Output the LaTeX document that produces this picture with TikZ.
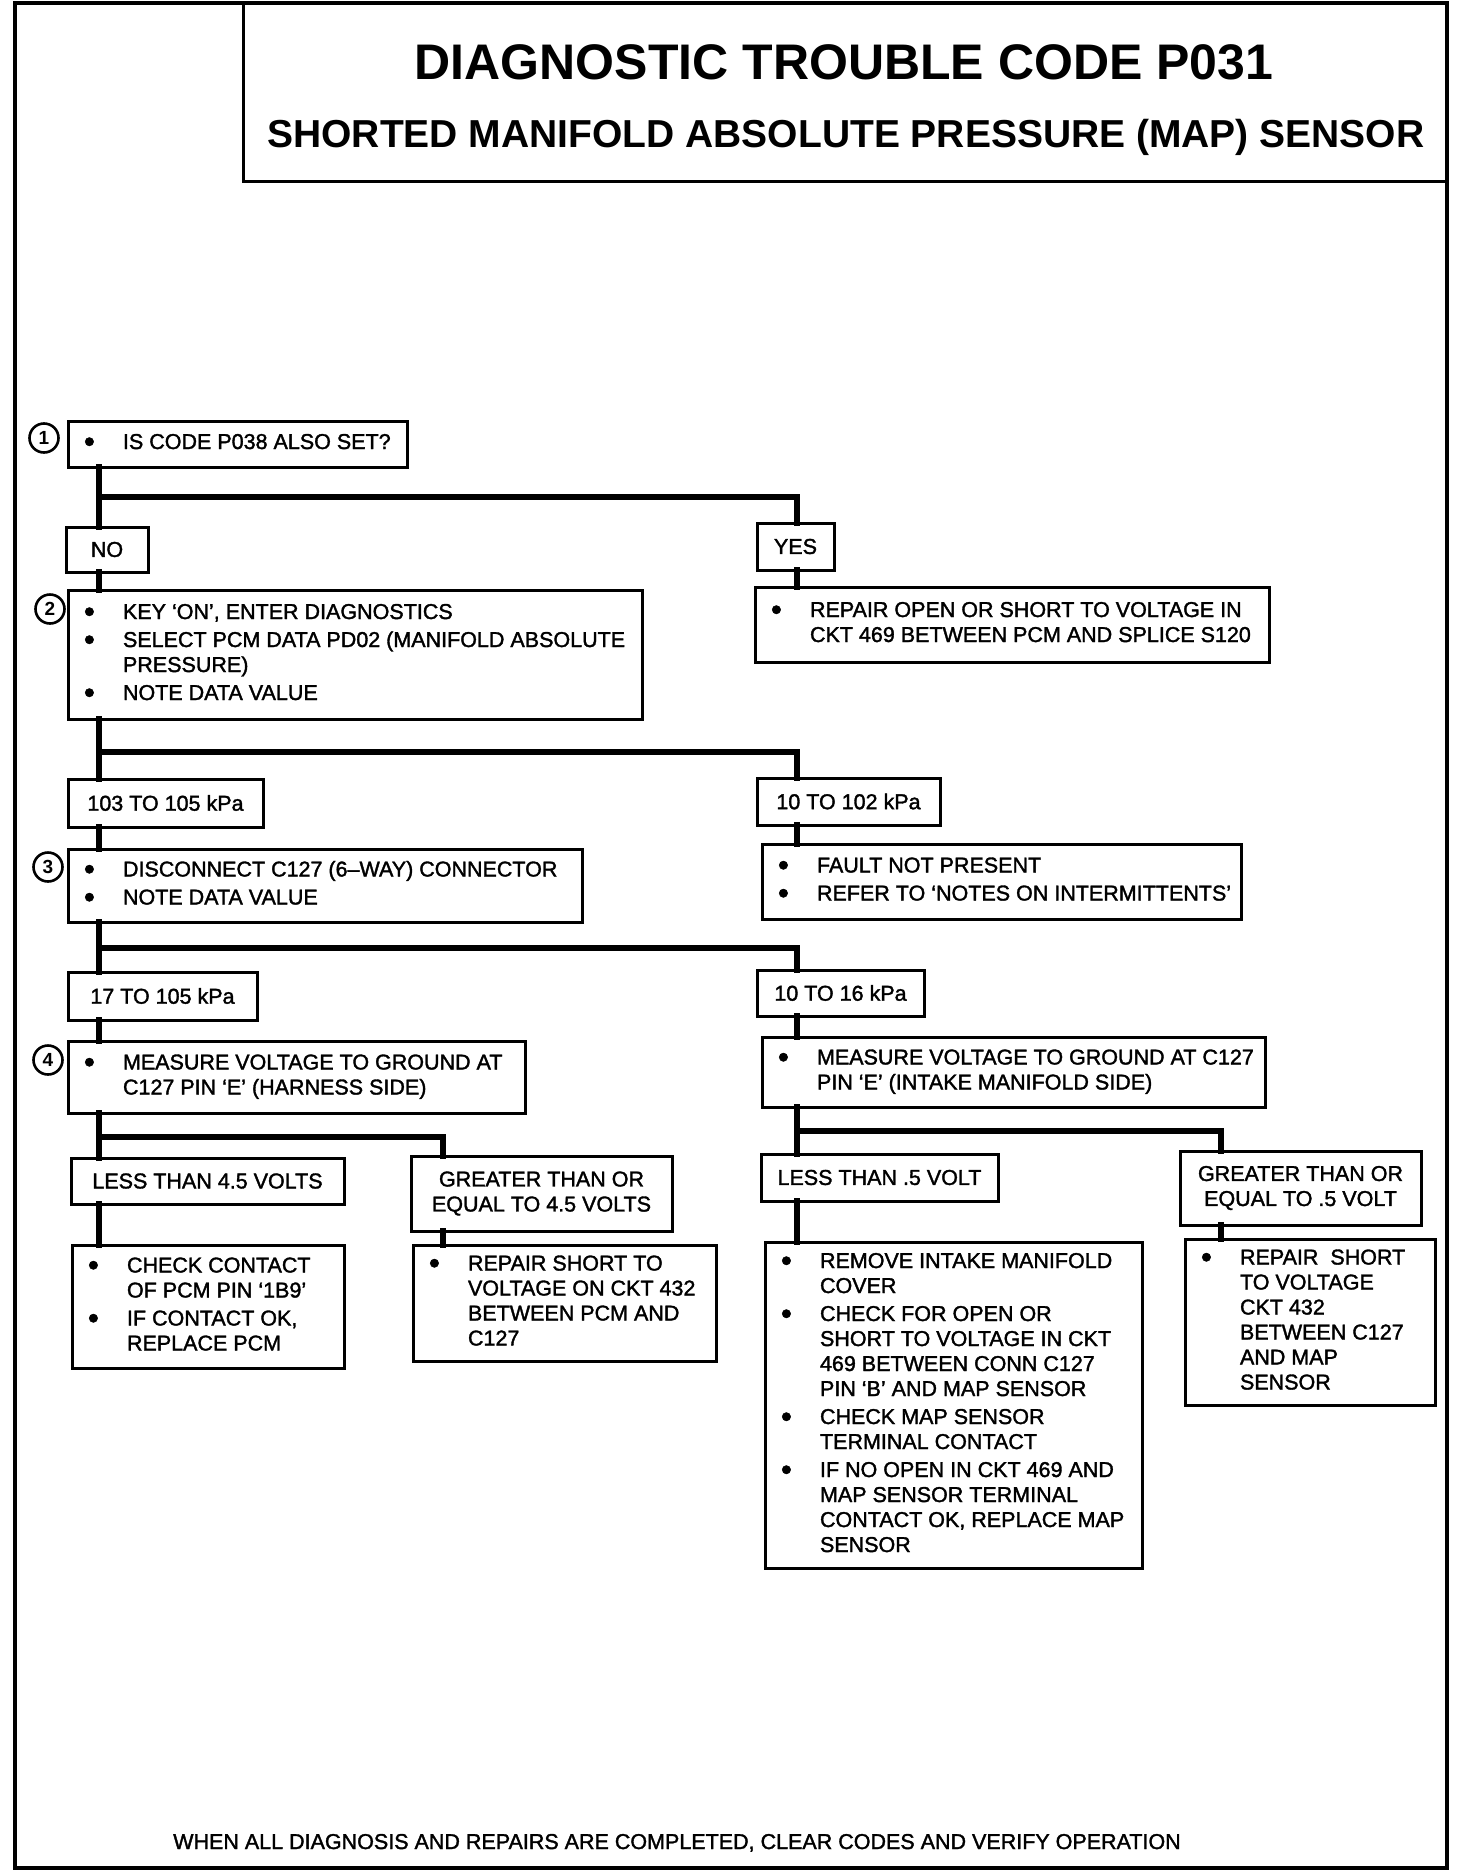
\documentclass[tikz,border=0pt]{standalone}
\usepackage{fontspec}
\setmainfont{Liberation Sans}
\newfontfamily\bodyf{Liberation Sans}[FakeBold=1.6]
\usepackage{array}
\newcommand\bu{\makebox[41pt][l]{\hspace{2pt}\raisebox{-3pt}{\fontsize{31}{25}\selectfont\textbullet}}}
\tikzset{
  box/.style={draw, line width=3pt, inner xsep=14pt, inner ysep=0pt, outer sep=0pt, anchor=north west,
    font=\bodyf\fontsize{21.5}{25}\selectfont},
  lbl/.style={draw, line width=3pt, inner sep=0pt, outer sep=0pt, anchor=north west, align=center,
    font=\bodyf\fontsize{21.5}{25}\selectfont},
  conn/.style={line width=5.5pt, line join=miter, line cap=rect},
  numc/.style={circle, draw, line width=2.6pt, minimum size=29pt, inner sep=0pt, fill=white,
    font=\bfseries\fontsize{19}{19}\selectfont},
}
% name, L, T, R, B, rows
\newcommand\bbox[6]{%
  \node[box, minimum width={(#4-#2)*1pt}, minimum height={(#5-#3)*1pt}] (#1) at (#2,#3)
    {\makebox[\dimexpr#4pt-#2pt-28pt\relax][l]{\begin{tabular}{@{}l@{}l@{}}#6\end{tabular}}};}
\newcommand\lbox[6]{%
  \node[lbl, minimum width={(#4-#2)*1pt}, minimum height={(#5-#3)*1pt}] (#1) at (#2,#3) {#6};}
\begin{document}
\begin{tikzpicture}[x=1pt,y=-1pt]
\useasboundingbox[fill=white] (0,0) rectangle (1472,1876);
% frame and title
\draw[line width=4pt] (15,3) rectangle (1447,1868);
\draw[line width=3pt] (243,3) rectangle (1447,181);
\node[font=\bfseries\fontsize{50}{50}\selectfont, anchor=base, inner sep=0pt] (t1) at (844,80) {DIAGNOSTIC TROUBLE CODE P031};
\node[font=\bfseries\fontsize{39}{39}\selectfont, anchor=base, inner sep=0pt] (t2) at (846,147) {SHORTED MANIFOLD ABSOLUTE PRESSURE (MAP) SENSOR};

% boxes
\bbox{b1}{68}{421}{407}{467}{\bu & IS CODE P038 ALSO SET?}
\lbox{no}{66}{527}{148}{572}{NO}
\lbox{yes}{757}{523}{834}{570}{YES}
\bbox{b2}{68}{590}{642}{719}{\bu & KEY ‘ON’, ENTER DIAGNOSTICS \\[3pt]
  \bu & SELECT PCM DATA PD02 (MANIFOLD ABSOLUTE \\
      & PRESSURE) \\[3pt]
  \bu & NOTE DATA VALUE}
\bbox{yact}{755}{587}{1269}{662}{\bu & REPAIR OPEN OR SHORT TO VOLTAGE IN \\
      & CKT 469 BETWEEN PCM AND SPLICE S120}
\lbox{l103}{68}{779}{263}{827}{103 TO 105 kPa}
\lbox{l102}{757}{778}{940}{825}{10 TO 102 kPa}
\bbox{b3}{68}{849}{582}{922}{\bu & DISCONNECT C127 (6–WAY) CONNECTOR \\[3pt]
  \bu & NOTE DATA VALUE}
\bbox{fault}{762}{844}{1241}{919}{\bu & FAULT NOT PRESENT \\[3pt]
  \bu & REFER TO ‘NOTES ON INTERMITTENTS’}
\lbox{l17}{68}{972}{257}{1020}{17 TO 105 kPa}
\lbox{l16}{757}{970}{924}{1016}{10 TO 16 kPa}
\bbox{b4}{68}{1041}{525}{1113}{\bu & MEASURE VOLTAGE TO GROUND AT \\
      & C127 PIN ‘E’ (HARNESS SIDE)}
\bbox{b4r}{762}{1037}{1265}{1107}{\bu & MEASURE VOLTAGE TO GROUND AT C127 \\
      & PIN ‘E’ (INTAKE MANIFOLD SIDE)}
\lbox{lt45}{71}{1158}{344}{1204}{LESS THAN 4.5 VOLTS}
\lbox{ge45}{411}{1156}{672}{1231}{GREATER THAN OR\\EQUAL TO 4.5 VOLTS}
\bbox{check}{72}{1245}{344}{1368}{\bu & CHECK CONTACT \\
      & OF PCM PIN ‘1B9’ \\[3pt]
  \bu & IF CONTACT OK, \\
      & REPLACE PCM}
\bbox{rep}{413}{1245}{716}{1361}{\bu & REPAIR SHORT TO \\
      & VOLTAGE ON CKT 432 \\
      & BETWEEN PCM AND \\
      & C127}
\lbox{lt05}{761}{1154}{998}{1201}{LESS THAN .5 VOLT}
\lbox{ge05}{1180}{1151}{1421}{1225}{GREATER THAN OR\\EQUAL TO .5 VOLT}
\bbox{remove}{765}{1242}{1142}{1568}{\bu & REMOVE INTAKE MANIFOLD \\
      & COVER \\[3pt]
  \bu & CHECK FOR OPEN OR \\
      & SHORT TO VOLTAGE IN CKT \\
      & 469 BETWEEN CONN C127 \\
      & PIN ‘B’ AND MAP SENSOR \\[3pt]
  \bu & CHECK MAP SENSOR \\
      & TERMINAL CONTACT \\[3pt]
  \bu & IF NO OPEN IN CKT 469 AND \\
      & MAP SENSOR TERMINAL \\
      & CONTACT OK, REPLACE MAP \\
      & SENSOR}
\bbox{repb}{1185}{1239}{1435}{1405}{\bu & REPAIR\ \ SHORT \\
      & TO VOLTAGE \\
      & CKT 432 \\
      & BETWEEN C127 \\
      & AND MAP \\
      & SENSOR}

% step numbers
\node[numc] (n1) at (44,438) {1};
\node[numc] (n2) at (50,609) {2};
\node[numc] (n3) at (48,867) {3};
\node[numc] (n4) at (48,1060) {4};

% connector coordinates
\coordinate (tx) at (99,0);
\coordinate (rx) at (797,0);
\coordinate (gx) at (443,0);
\coordinate (gx2) at (1221,0);
\coordinate (h1) at (99,497);
\coordinate (h2) at (99,752);
\coordinate (h3) at (99,948);
\coordinate (h4) at (99,1137);
\coordinate (h5) at (797,1131);

\draw[conn] (b1.south -| tx) -- (no.north -| tx);
\draw[conn] (h1) -| (yes.north -| rx);
\draw[conn] (no.south -| tx) -- (b2.north -| tx);
\draw[conn] (yes.south -| rx) -- (yact.north -| rx);
\draw[conn] (b2.south -| tx) -- (l103.north -| tx);
\draw[conn] (h2) -| (l102.north -| rx);
\draw[conn] (l103.south -| tx) -- (b3.north -| tx);
\draw[conn] (l102.south -| rx) -- (fault.north -| rx);
\draw[conn] (b3.south -| tx) -- (l17.north -| tx);
\draw[conn] (h3) -| (l16.north -| rx);
\draw[conn] (l17.south -| tx) -- (b4.north -| tx);
\draw[conn] (l16.south -| rx) -- (b4r.north -| rx);
\draw[conn] (b4.south -| tx) -- (lt45.north -| tx);
\draw[conn] (h4) -| (ge45.north -| gx);
\draw[conn] (lt45.south -| tx) -- (check.north -| tx);
\draw[conn] (ge45.south -| gx) -- (rep.north -| gx);
\draw[conn] (b4r.south -| rx) -- (lt05.north -| rx);
\draw[conn] (h5) -| (ge05.north -| gx2);
\draw[conn] (lt05.south -| rx) -- (remove.north -| rx);
\draw[conn] (ge05.south -| gx2) -- (repb.north -| gx2);

% footer
\node[font=\bodyf\fontsize{21.5}{25}\selectfont, anchor=base, inner sep=0pt] (foot) at (677,1849)
  {WHEN ALL DIAGNOSIS AND REPAIRS ARE COMPLETED, CLEAR CODES AND VERIFY OPERATION};
\end{tikzpicture}
\end{document}
